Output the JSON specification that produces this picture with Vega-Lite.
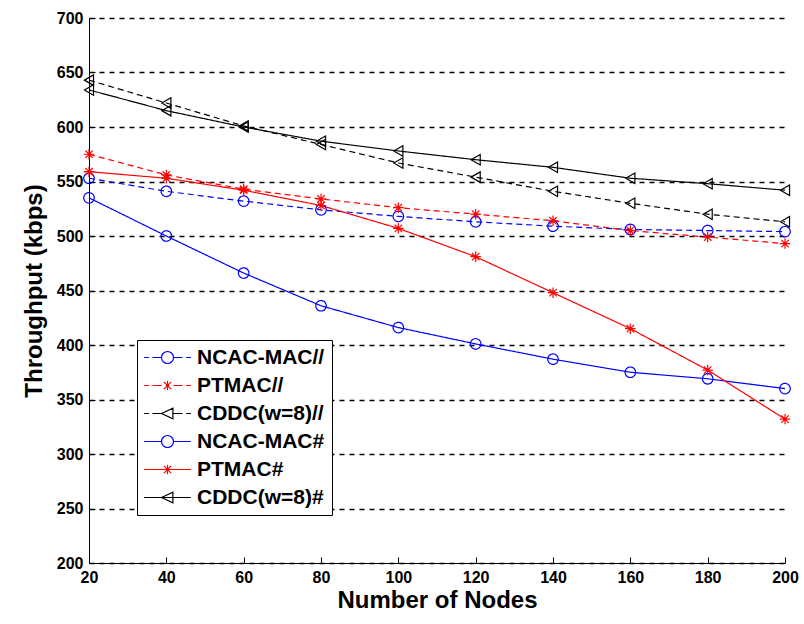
{
  "$schema": "https://vega.github.io/schema/vega-lite/v6.json",
  "width": 696,
  "height": 545,
  "autosize": "none",
  "padding": {"left": 89, "top": 18, "right": 19, "bottom": 61},
  "background": "white",
  "config": {
    "font": "Liberation Sans",
    "view": {"stroke": null},
    "axis": {"labelFont": "Liberation Sans", "titleFont": "Liberation Sans", "labelColor": "black", "titleColor": "black", "domainColor": "black", "tickColor": "black"}
  },
  "data": {
    "values": [
      {"nodes": 20, "series": "NCAC-MAC//", "throughput": 553},
      {"nodes": 40, "series": "NCAC-MAC//", "throughput": 541},
      {"nodes": 60, "series": "NCAC-MAC//", "throughput": 532},
      {"nodes": 80, "series": "NCAC-MAC//", "throughput": 524},
      {"nodes": 100, "series": "NCAC-MAC//", "throughput": 518},
      {"nodes": 120, "series": "NCAC-MAC//", "throughput": 513},
      {"nodes": 140, "series": "NCAC-MAC//", "throughput": 509},
      {"nodes": 160, "series": "NCAC-MAC//", "throughput": 506},
      {"nodes": 180, "series": "NCAC-MAC//", "throughput": 505},
      {"nodes": 200, "series": "NCAC-MAC//", "throughput": 504},
      {"nodes": 20, "series": "PTMAC//", "throughput": 575},
      {"nodes": 40, "series": "PTMAC//", "throughput": 556},
      {"nodes": 60, "series": "PTMAC//", "throughput": 543},
      {"nodes": 80, "series": "PTMAC//", "throughput": 534},
      {"nodes": 100, "series": "PTMAC//", "throughput": 526},
      {"nodes": 120, "series": "PTMAC//", "throughput": 520},
      {"nodes": 140, "series": "PTMAC//", "throughput": 514},
      {"nodes": 160, "series": "PTMAC//", "throughput": 505},
      {"nodes": 180, "series": "PTMAC//", "throughput": 499},
      {"nodes": 200, "series": "PTMAC//", "throughput": 493},
      {"nodes": 20, "series": "CDDC(w=8)//", "throughput": 643},
      {"nodes": 40, "series": "CDDC(w=8)//", "throughput": 622},
      {"nodes": 60, "series": "CDDC(w=8)//", "throughput": 601},
      {"nodes": 80, "series": "CDDC(w=8)//", "throughput": 584},
      {"nodes": 100, "series": "CDDC(w=8)//", "throughput": 567},
      {"nodes": 120, "series": "CDDC(w=8)//", "throughput": 554},
      {"nodes": 140, "series": "CDDC(w=8)//", "throughput": 541},
      {"nodes": 160, "series": "CDDC(w=8)//", "throughput": 530},
      {"nodes": 180, "series": "CDDC(w=8)//", "throughput": 520},
      {"nodes": 200, "series": "CDDC(w=8)//", "throughput": 513},
      {"nodes": 20, "series": "NCAC-MAC#", "throughput": 535},
      {"nodes": 40, "series": "NCAC-MAC#", "throughput": 500},
      {"nodes": 60, "series": "NCAC-MAC#", "throughput": 466},
      {"nodes": 80, "series": "NCAC-MAC#", "throughput": 436},
      {"nodes": 100, "series": "NCAC-MAC#", "throughput": 416},
      {"nodes": 120, "series": "NCAC-MAC#", "throughput": 401},
      {"nodes": 140, "series": "NCAC-MAC#", "throughput": 387},
      {"nodes": 160, "series": "NCAC-MAC#", "throughput": 375},
      {"nodes": 180, "series": "NCAC-MAC#", "throughput": 369},
      {"nodes": 200, "series": "NCAC-MAC#", "throughput": 360},
      {"nodes": 20, "series": "PTMAC#", "throughput": 559},
      {"nodes": 40, "series": "PTMAC#", "throughput": 553},
      {"nodes": 60, "series": "PTMAC#", "throughput": 542},
      {"nodes": 80, "series": "PTMAC#", "throughput": 528},
      {"nodes": 100, "series": "PTMAC#", "throughput": 507},
      {"nodes": 120, "series": "PTMAC#", "throughput": 481},
      {"nodes": 140, "series": "PTMAC#", "throughput": 448},
      {"nodes": 160, "series": "PTMAC#", "throughput": 415},
      {"nodes": 180, "series": "PTMAC#", "throughput": 377},
      {"nodes": 200, "series": "PTMAC#", "throughput": 332},
      {"nodes": 20, "series": "CDDC(w=8)#", "throughput": 634},
      {"nodes": 40, "series": "CDDC(w=8)#", "throughput": 615},
      {"nodes": 60, "series": "CDDC(w=8)#", "throughput": 600},
      {"nodes": 80, "series": "CDDC(w=8)#", "throughput": 587},
      {"nodes": 100, "series": "CDDC(w=8)#", "throughput": 578},
      {"nodes": 120, "series": "CDDC(w=8)#", "throughput": 570},
      {"nodes": 140, "series": "CDDC(w=8)#", "throughput": 563},
      {"nodes": 160, "series": "CDDC(w=8)#", "throughput": 553},
      {"nodes": 180, "series": "CDDC(w=8)#", "throughput": 548},
      {"nodes": 200, "series": "CDDC(w=8)#", "throughput": 542}
    ]
  },
  "encoding": {
    "x": {
      "field": "nodes", "type": "quantitative",
      "scale": {"domain": [20, 200], "nice": false, "zero": false},
      "axis": {"values": [20, 40, 60, 80, 100, 120, 140, 160, 180, 200], "title": "Number of Nodes", "titleFontSize": 24, "titleFontWeight": "bold", "labelFontSize": 16, "labelFontWeight": "bold", "tickSize": -6, "labelPadding": 12, "titlePadding": 3, "grid": false, "labelFlush": false}
    },
    "y": {
      "field": "throughput", "type": "quantitative",
      "scale": {"domain": [200, 700], "nice": false, "zero": false},
      "axis": {"values": [200, 250, 300, 350, 400, 450, 500, 550, 600, 650, 700], "title": "Throughput (kbps)", "titleFontSize": 24, "titleFontWeight": "bold", "labelFontSize": 16, "labelFontWeight": "bold", "tickSize": -6, "labelPadding": 12, "titlePadding": 10, "grid": true, "gridColor": "black", "gridDash": [5, 5], "gridWidth": 1.5, "gridOpacity": 1}
    },
    "color": {
      "field": "series", "type": "nominal",
      "scale": {"domain": ["NCAC-MAC//", "PTMAC//", "CDDC(w=8)//", "NCAC-MAC#", "PTMAC#", "CDDC(w=8)#"], "range": ["#0000ff", "#ff0000", "#000000", "#0000ff", "#ff0000", "#000000"]},
      "legend": {
        "title": null, "orient": "none", "legendX": 48, "legendY": 322,
        "strokeColor": "black", "fillColor": "white", "padding": 7,
        "labelFontSize": 21, "labelFontWeight": "bold", "labelColor": "black",
        "rowPadding": 6, "symbolSize": 144, "symbolStrokeWidth": 1.2,
        "symbolOffset": 13, "labelOffset": 19,
        "encode": {
          "symbols": {
            "update": {
              "strokeDash": {"value": []},
              "fill": {"value": "transparent"},
              "shape": {"signal": "datum.value === 'NCAC-MAC//' ? 'M-3.9,0L-3.1,0M-2.5,0L-1,0M1,0L2.5,0M3.1,0L3.9,0M-1,0A1,1 0 1,1 1,0A1,1 0 1,1 -1,0' : datum.value === 'PTMAC//' ? 'M-3.9,0L-3.1,0M-2.5,0L-1,0M-0.3,0L0.3,0M1,0L2.5,0M3.1,0L3.9,0M0,-0.8L0,0.8M-0.6,-0.6L0.6,0.6M-0.6,0.6L0.6,-0.6' : datum.value === 'CDDC(w=8)//' ? 'M-3.9,0L-3.1,0M-2.5,0L-1,0M1,0L2.5,0M3.1,0L3.9,0M-1,0L0.9,-0.9L0.9,0.9Z' : datum.value === 'NCAC-MAC#' ? 'M-3.9,0L-1,0M1,0L3.9,0M-1,0A1,1 0 1,1 1,0A1,1 0 1,1 -1,0' : datum.value === 'PTMAC#' ? 'M-3.9,0L3.9,0M0,-0.8L0,0.8M-0.6,-0.6L0.6,0.6M-0.6,0.6L0.6,-0.6' : 'M-3.9,0L3.9,0M-1,0L0.9,-0.9L0.9,0.9Z'"}
            }
          }
        }
      }
    },
    "strokeDash": {
      "field": "series", "type": "nominal",
      "scale": {"domain": ["NCAC-MAC#", "PTMAC#", "CDDC(w=8)#", "NCAC-MAC//", "PTMAC//", "CDDC(w=8)//"], "range": [[1, 0], [1, 0], [1, 0], [6, 4], [6, 4], [6, 4]]},
      "legend": null
    }
  },
  "layer": [
    {"mark": {"type": "line", "strokeWidth": 1.2}},
    {
      "mark": {"type": "point", "filled": false, "size": 110, "strokeWidth": 1.2, "opacity": 1},
      "encoding": {
        "shape": {
          "field": "series", "type": "nominal",
          "scale": {"domain": ["CDDC(w=8)#", "PTMAC#", "NCAC-MAC#", "CDDC(w=8)//", "PTMAC//", "NCAC-MAC//"], "range": ["triangle-left", "M-1,0L1,0M0,-1L0,1M-0.7,-0.7L0.7,0.7M-0.7,0.7L0.7,-0.7", "circle", "triangle-left", "M-1,0L1,0M0,-1L0,1M-0.7,-0.7L0.7,0.7M-0.7,0.7L0.7,-0.7", "circle"]},
          "legend": null
        },
        "strokeDash": {"value": [1, 0]}
      }
    }
  ]
}
